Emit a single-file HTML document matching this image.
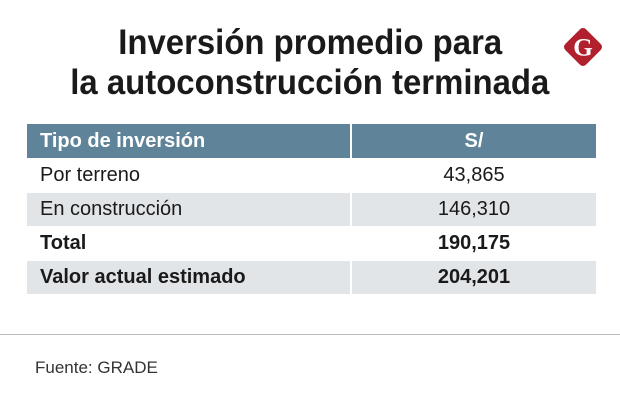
<!DOCTYPE html>
<html><head><meta charset="utf-8"><style>
body{margin:0;width:620px;height:403px;background:#fff;position:relative;overflow:hidden;font-family:"Liberation Sans",sans-serif}
.t{position:absolute;left:0;width:620px;text-align:center;font-weight:bold;font-size:35px;color:#1a1a1a;white-space:nowrap}
.t span{display:inline-block;transform:scaleX(0.94)}
.row{position:absolute;left:27px;width:569px;height:33px}
.c1,.c2{position:absolute;top:0;height:100%;line-height:33px;font-size:20px;color:#1a1a1a}
.c1{left:0;width:323px;padding-left:13px;box-sizing:border-box}
.c2{left:325px;width:244px;text-align:center}
.g .c1,.g .c2{background:#e1e5e8}
.b{font-weight:bold}
.h .c1,.h .c2{background:#5f8499;color:#fff;font-weight:bold}
</style></head><body>
<div class="t" style="top:23px"><span>Inversión promedio para</span></div>
<div class="t" style="top:63px"><span>la autoconstrucción terminada</span></div>
<svg style="position:absolute;left:560px;top:24px" width="46" height="46" viewBox="0 0 44 44">
<rect x="8" y="8" width="28" height="28" rx="4" fill="#b0202d" transform="rotate(45 22 22)"/>
<text x="22" y="30" text-anchor="middle" font-family="Liberation Serif" font-weight="bold" font-size="24" fill="#fff">G</text></svg>
<div class="row h" style="top:124px;height:34px"><div class="c1" style="line-height:34px">Tipo de inversión</div><div class="c2" style="line-height:34px">S/</div></div>
<div class="row" style="top:159px"><div class="c1">Por terreno</div><div class="c2">43,865</div></div>
<div class="row g" style="top:193px"><div class="c1">En construcción</div><div class="c2">146,310</div></div>
<div class="row b" style="top:227px"><div class="c1">Total</div><div class="c2">190,175</div></div>
<div class="row g b" style="top:261px"><div class="c1">Valor actual estimado</div><div class="c2">204,201</div></div>
<div style="position:absolute;left:0;top:334px;width:620px;height:1px;background:#bbb"></div>
<div style="position:absolute;left:35px;top:358px;font-size:17px;color:#333">Fuente: GRADE</div>
</body></html>
